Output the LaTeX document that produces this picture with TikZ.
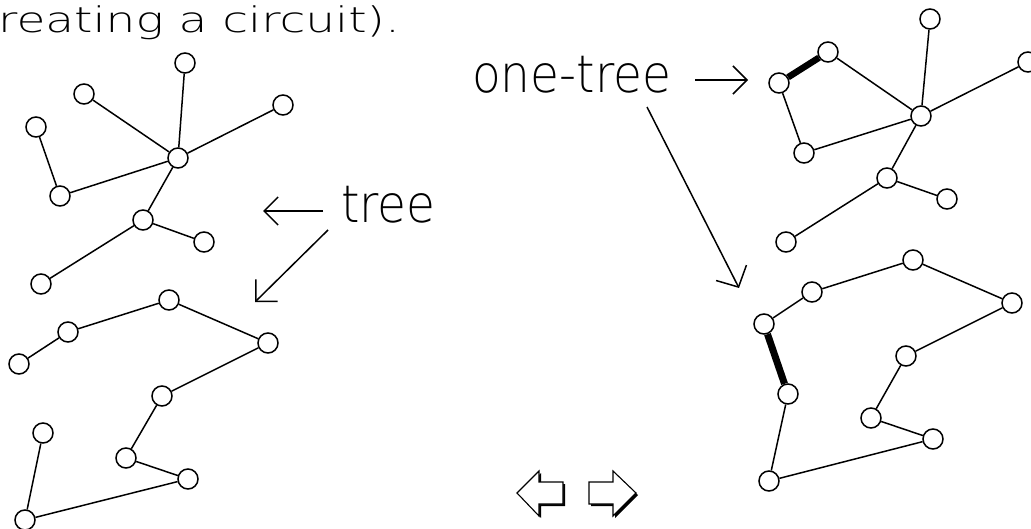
\documentclass[tikz,border=0pt]{standalone}
\usepackage{fontspec}
\setmainfont{DejaVu Sans ExtraLight}
\usetikzlibrary{arrows.meta}
\tikzset{
  vtx/.style={circle,draw,fill=white,line width=1.5pt,minimum size=20pt,inner sep=0pt},
  edge/.style={line width=1.5pt},
  heavy/.style={line width=6.5pt},
  lbl/.style={anchor=base west,inner sep=0pt,font=\fontsize{47}{56}\selectfont},
  hbarb/.style={line width=1.5pt,-{Straight Barb[length=14pt,width=28pt]}},
  dbarb/.style={line width=1.5pt,-{Straight Barb[length=16pt,width=34pt]}},
  navicon/.style={draw,fill=white,line width=1.1pt,line join=miter},
  navshadow/.style={fill=black}
}
\begin{document}
\begin{tikzpicture}[x=1pt,y=-1pt]
\useasboundingbox (0,0) rectangle (1031,529);
% ---- left upper tree
\node[vtx] (A) at (185,63) {};
\node[vtx] (B) at (84,94) {};
\node[vtx] (C) at (36,127) {};
\node[vtx] (D) at (283,105) {};
\node[vtx] (E) at (178,158) {};
\node[vtx] (F) at (60,196) {};
\node[vtx] (G) at (143,220) {};
\node[vtx] (H) at (204,242) {};
\node[vtx] (I) at (41,284) {};
\draw[edge] (A) -- (E);
\draw[edge] (B) -- (E);
\draw[edge] (D) -- (E);
\draw[edge] (C) -- (F);
\draw[edge] (F) -- (E);
\draw[edge] (E) -- (G);
\draw[edge] (G) -- (H);
\draw[edge] (G) -- (I);
% ---- left lower tree
\node[vtx] (J) at (169,300) {};
\node[vtx] (K) at (68,332) {};
\node[vtx] (L) at (19,364) {};
\node[vtx] (M) at (268,343) {};
\node[vtx] (N) at (162,396) {};
\node[vtx] (O) at (43,433) {};
\node[vtx] (P) at (126,458) {};
\node[vtx] (Q) at (188,479) {};
\node[vtx] (R) at (25,520) {};
\draw[edge] (L) -- (K);
\draw[edge] (K) -- (J);
\draw[edge] (J) -- (M);
\draw[edge] (M) -- (N);
\draw[edge] (N) -- (P);
\draw[edge] (P) -- (Q);
\draw[edge] (Q) -- (R);
\draw[edge] (R) -- (O);
% ---- right upper one-tree
\node[vtx] (a) at (930,19) {};
\node[vtx] (b) at (828,52) {};
\node[vtx] (c) at (779,83) {};
\node[vtx] (d) at (1028,62) {};
\node[vtx] (e) at (921,116) {};
\node[vtx] (f) at (804,153) {};
\node[vtx] (g) at (887,178) {};
\node[vtx] (h) at (947,199) {};
\node[vtx] (i) at (786,242) {};
\draw[heavy] (c) -- (b);
\draw[edge] (b) -- (e);
\draw[edge] (c) -- (f);
\draw[edge] (f) -- (e);
\draw[edge] (a) -- (e);
\draw[edge] (d) -- (e);
\draw[edge] (e) -- (g);
\draw[edge] (g) -- (h);
\draw[edge] (g) -- (i);
% ---- right lower one-tree
\node[vtx] (j) at (913,260) {};
\node[vtx] (k) at (812,292) {};
\node[vtx] (l) at (764,324) {};
\node[vtx] (m) at (1012,303) {};
\node[vtx] (n) at (906,356) {};
\node[vtx] (o) at (788,394) {};
\node[vtx] (p) at (871,418) {};
\node[vtx] (q) at (933,439) {};
\node[vtx] (r) at (769,481) {};
\draw[edge] (l) -- (k);
\draw[edge] (k) -- (j);
\draw[edge] (j) -- (m);
\draw[edge] (m) -- (n);
\draw[edge] (n) -- (p);
\draw[edge] (p) -- (q);
\draw[edge] (q) -- (r);
\draw[edge] (r) -- (o);
\draw[heavy,line width=7pt] (o) -- (l);
% ---- texts
\node[lbl] (top) at (-2,33) {\scalebox{1}[0.75]{reating a circuit).}};
\node[lbl] (onetree) at (472,93) {\scalebox{1}[1.1]{one-tree}};
\node[lbl] (treelbl) at (341,223) {\scalebox{1}[1.1]{tree}};
% ---- label arrows
\coordinate (ot1) at (695,80);
\coordinate (ot2) at (748,80);
\coordinate (ot3) at (647,107);
\coordinate (ot4) at (739,288);
\coordinate (tr1) at (323,211);
\coordinate (tr2) at (263,211);
\coordinate (tr3) at (328,230);
\coordinate (tr4) at (255,302);
\draw[hbarb] (ot1) -- (ot2);
\draw[dbarb] (ot3) -- (ot4);
\draw[hbarb] (tr1) -- (tr2);
\draw[line width=1.5pt,-{Straight Barb[length=15.5pt,width=31pt]}] (tr3) -- (tr4);
% ---- navigation icons
\fill[navshadow] (519,495) -- (541,473) -- (541,484) -- (565,484) -- (565,506) -- (541,506) -- (541,518) -- cycle;
\draw[navicon] (517,493) -- (539,471) -- (539,482) -- (563,482) -- (563,504) -- (539,504) -- (539,516) -- cycle;
\fill[navshadow] (638,495) -- (615,473) -- (615,484) -- (591,484) -- (591,506) -- (615,506) -- (615,518) -- cycle;
\draw[navicon] (636,493) -- (613,471) -- (613,482) -- (589,482) -- (589,504) -- (613,504) -- (613,516) -- cycle;
\end{tikzpicture}
\end{document}
